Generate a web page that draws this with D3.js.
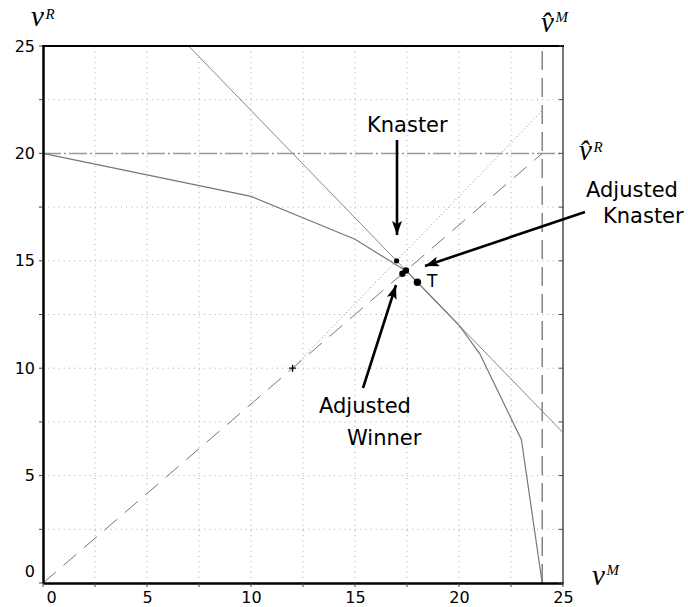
<!DOCTYPE html>
<html>
<head>
<meta charset="utf-8">
<script src="https://cdn.jsdelivr.net/npm/d3@7"></script>
<style>
  body { margin: 0; background: #fff; }
  svg { display: block; }
  .tick text { font-family: "DejaVu Sans", sans-serif; font-size: 16px; fill: #000; }
  .lbl { font-family: "DejaVu Sans", sans-serif; font-size: 21px; fill: #000; }
  .math { font-family: "Liberation Serif", serif; font-style: italic; fill: #000; }
</style>
</head>
<body>
<div id="chart"></div>
<script>
// values
const tickValues = [0, 5, 10, 15, 20, 25];
const gridValues = [2.5, 5, 7.5, 10, 12.5, 15, 17.5, 20, 22.5];
const frontier = [[0, 20], [10, 18], [15, 16], [17.5, 14.5], [20, 12], [21, 10.67], [23, 6.67], [24, 0]];
const budgetLine = [[7, 25], [25, 7]];
const idealR = 20;
const idealM = 24;
const disagreement = [12, 10];
const dashedRay = [[0, 0], [24, 20]];
const dottedRay = [[12, 10], [24, 22]];
const knaster = [17, 15];
const adjusted = [[17.28, 14.4], [17.45, 14.55]];
const pointT = [18, 14];

const width = 688, height = 607;
const margin = { left: 43, right: 125, top: 46, bottom: 24 };

const svg = d3.select("#chart").append("svg")
    .attr("width", width)
    .attr("height", height);

const x = d3.scaleLinear().domain([0, 25]).range([margin.left, width - margin.right]);
const y = d3.scaleLinear().domain([0, 25]).range([height - margin.bottom, margin.top]);

const line = d3.line().x(d => x(d[0])).y(d => y(d[1]));

// grid
const grid = svg.append("g")
    .attr("stroke", "#aaa")
    .attr("stroke-width", 1)
    .attr("stroke-dasharray", "1,4.2");
grid.selectAll(".gx").data(gridValues).join("line")
    .attr("x1", d => x(d)).attr("x2", d => x(d))
    .attr("y1", y(0)).attr("y2", y(25));
grid.selectAll(".gy").data(gridValues).join("line")
    .attr("x1", x(0)).attr("x2", x(25))
    .attr("y1", d => y(d)).attr("y2", d => y(d));

// reference lines
svg.append("line")
    .attr("x1", x(0)).attr("x2", x(25))
    .attr("y1", y(idealR)).attr("y2", y(idealR))
    .attr("stroke", "#999").attr("stroke-width", 1.5)
    .attr("stroke-dasharray", "18,3,2,3");
svg.append("line")
    .attr("x1", x(idealM)).attr("x2", x(idealM))
    .attr("y1", y(0)).attr("y2", y(25))
    .attr("stroke", "#666").attr("stroke-width", 1.2)
    .attr("stroke-dasharray", "19,8");

svg.append("path").datum(dashedRay)
    .attr("d", line).attr("fill", "none")
    .attr("stroke", "#777").attr("stroke-width", 1)
    .attr("stroke-dasharray", "17,10");
svg.append("path").datum(dottedRay)
    .attr("d", line).attr("fill", "none")
    .attr("stroke", "#888").attr("stroke-width", 1)
    .attr("stroke-dasharray", "1,2.5");

svg.append("path").datum(budgetLine)
    .attr("d", line).attr("fill", "none")
    .attr("stroke", "#888").attr("stroke-width", 1);
svg.append("path").datum(frontier)
    .attr("d", line).attr("fill", "none")
    .attr("stroke", "#777").attr("stroke-width", 1.2);

// frame
const clipTop = y(25), clipBot = y(0), clipL = x(0), clipR = x(25);
svg.append("line").attr("x1", clipR).attr("x2", clipR).attr("y1", clipTop).attr("y2", clipBot)
    .attr("stroke", "#777").attr("stroke-width", 2);
svg.append("line").attr("x1", clipL - 1).attr("x2", clipR + 1).attr("y1", clipTop).attr("y2", clipTop)
    .attr("stroke", "#000").attr("stroke-width", 2);

// axes
const xAxis = svg.append("g")
    .attr("transform", `translate(0,${y(0)})`)
    .call(d3.axisBottom(x).tickValues(tickValues).tickSize(0).tickPadding(9).tickFormat(d3.format("d")));
const yAxis = svg.append("g")
    .attr("transform", `translate(${x(0)},0)`)
    .call(d3.axisLeft(y).tickValues(tickValues).tickSize(0).tickPadding(8).tickFormat(d3.format("d")));
[xAxis, yAxis].forEach(a => a.select(".domain").attr("stroke", "#000").attr("stroke-width", 2.5));
xAxis.selectAll(".tick").filter(d => d === 0).select("text").attr("dx", 8);
yAxis.selectAll(".tick").filter(d => d === 0).select("text").attr("dy", "-0.42em");

// small tick marks
const minor = d3.range(0, 25.01, 2.5);
const tk = svg.append("g").attr("stroke", "#444").attr("stroke-width", 1);
tk.selectAll(".tb").data(minor).join("line")
    .attr("x1", d => x(d)).attr("x2", d => x(d)).attr("y1", y(0)).attr("y2", y(0) + 4);
tk.selectAll(".tl").data(minor).join("line")
    .attr("x1", x(0) - 4).attr("x2", x(0)).attr("y1", d => y(d)).attr("y2", d => y(d));
tk.selectAll(".tr").data(minor).join("line")
    .attr("x1", x(25) - 4).attr("x2", x(25)).attr("y1", d => y(d)).attr("y2", d => y(d));

// points
svg.append("path")
    .attr("transform", `translate(${x(disagreement[0])},${y(disagreement[1])})`)
    .attr("fill", "none").attr("stroke", "#000").attr("stroke-width", 1.3)
    .attr("d", "M-3.5,0H3.5M0,-3.5V3.5");
svg.append("circle").attr("cx", x(knaster[0])).attr("cy", y(knaster[1])).attr("r", 2.6);
svg.selectAll(".adj").data(adjusted).join("circle")
    .attr("cx", d => x(d[0])).attr("cy", d => y(d[1])).attr("r", 3.2);
svg.append("circle").attr("cx", x(pointT[0])).attr("cy", y(pointT[1])).attr("r", 3.7);

// arrows
svg.append("defs").append("marker")
    .attr("id", "head")
    .attr("viewBox", "0 0 14 10")
    .attr("refX", 14).attr("refY", 5)
    .attr("markerWidth", 14).attr("markerHeight", 10)
    .attr("markerUnits", "userSpaceOnUse")
    .attr("orient", "auto")
    .append("path").attr("d", "M0,0L14,5L0,10L3,5Z").attr("fill", "#000");

const arrows = [
    [[397, 140], [397, 235]],
    [[585, 212], [425, 266]],
    [[363, 388], [396, 285]]
];
svg.selectAll(".arrow").data(arrows).join("line")
    .attr("x1", d => d[0][0]).attr("y1", d => d[0][1])
    .attr("x2", d => d[1][0]).attr("y2", d => d[1][1])
    .attr("stroke", "#000").attr("stroke-width", 2.6)
    .attr("marker-end", "url(#head)");

// annotation text
const notes = [
    ["Knaster", 367, 132],
    ["Adjusted", 586, 197],
    ["Knaster", 603, 223],
    ["Adjusted", 319, 413],
    ["Winner", 347, 445]
];
svg.selectAll(".note").data(notes).join("text")
    .attr("class", "lbl")
    .attr("x", d => d[1]).attr("y", d => d[2])
    .text(d => d[0]);
svg.append("text").attr("class", "lbl").style("font-size", "17px")
    .attr("x", 427).attr("y", 287).text("T");

// math labels
function mathLabel(px, py, base, sup, rise) {
    const t = svg.append("text").attr("class", "math").attr("x", px).attr("y", py);
    t.append("tspan").style("font-size", "29px").text(base);
    t.append("tspan").style("font-size", "15px").attr("dy", -rise).attr("dx", 1.5).text(sup);
}
mathLabel(31, 26, "v", "R", 7.5);
mathLabel(541, 32, "v\u0302", "M", 10);
mathLabel(579, 160, "v\u0302", "R", 8.5);
mathLabel(592, 585, "v", "M", 10);
</script>
</body>
</html>
